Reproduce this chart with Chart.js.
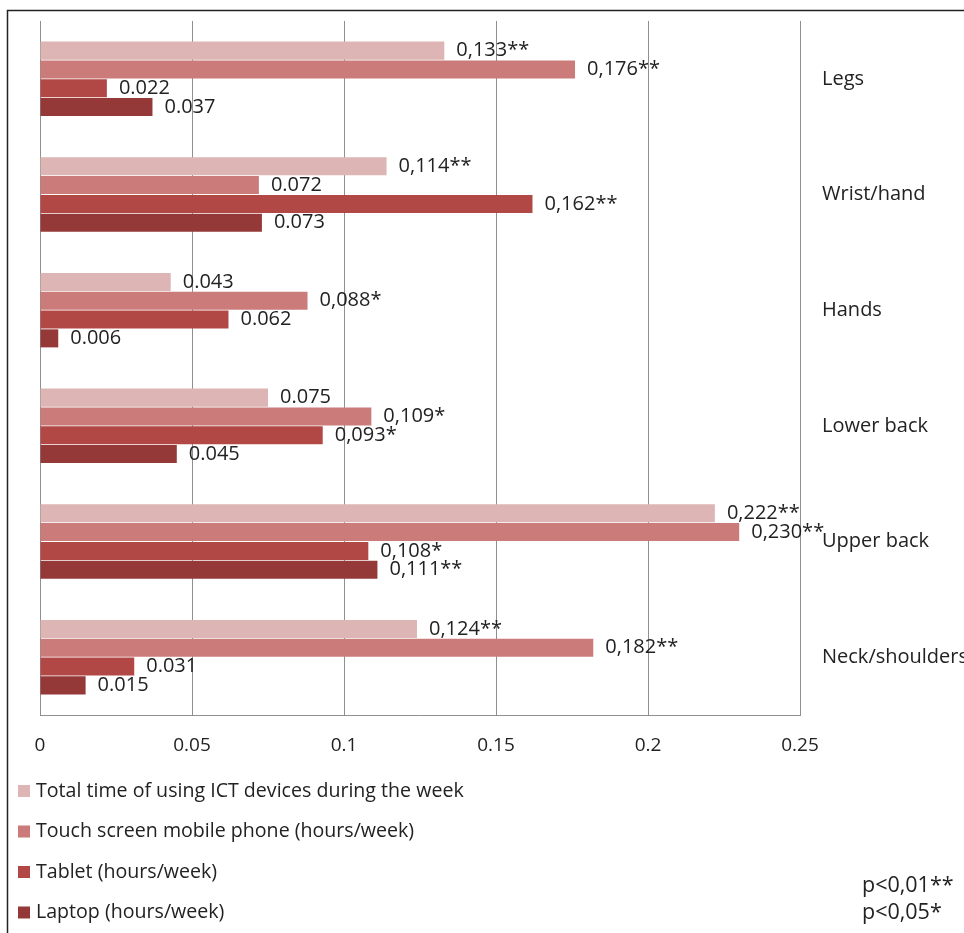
<!DOCTYPE html>
<html>
<head>
<meta charset="utf-8">
<script src="https://cdn.jsdelivr.net/npm/chart.js@4.4.1/dist/chart.umd.min.js"></script>
<style>
  html, body { margin: 0; padding: 0; background: #fff; }
  #wrap { width: 964px; height: 933px; }
</style>
</head>
<body>
<div id="wrap"><canvas id="myChart" width="964" height="933"></canvas></div>
<script>
// categories, top to bottom
var regions = ['Legs', 'Wrist/hand', 'Hands', 'Lower back', 'Upper back', 'Neck/shoulders'];

var totalTime = [0.133, 0.114, 0.043, 0.075, 0.222, 0.124];
var touchPhone = [0.176, 0.072, 0.088, 0.109, 0.230, 0.182];
var tablet = [0.022, 0.162, 0.062, 0.093, 0.108, 0.031];
var laptop = [0.037, 0.073, 0.006, 0.045, 0.111, 0.015];

// labels as printed next to the bars
var totalTimeText = ['0,133**', '0,114**', '0.043', '0.075', '0,222**', '0,124**'];
var touchPhoneText = ['0,176**', '0.072', '0,088*', '0,109*', '0,230**', '0,182**'];
var tabletText = ['0.022', '0,162**', '0.062', '0,093*', '0,108*', '0.031'];
var laptopText = ['0.037', '0.073', '0.006', '0.045', '0,111**', '0.015'];

var xTicks = ['0', '0.05', '0.1', '0.15', '0.2', '0.25'];
var notes = ['p<0,01**', 'p<0,05*'];

var FONT = '"Open Sans", Lato, sans-serif';
var SIZE = 20;

var barLabels = {
    id: 'barLabels',
    afterDatasetsDraw: function(chart) {
        var ctx = chart.ctx;
        ctx.save();
        ctx.font = SIZE + 'px ' + FONT;
        ctx.fillStyle = '#222';
        ctx.textBaseline = 'middle';
        ctx.textAlign = 'left';
        chart.data.datasets.forEach(function(ds, i) {
            chart.getDatasetMeta(i).data.forEach(function(bar, j) {
                ctx.fillText(ds.valueText[j], bar.x + 12, bar.y);
            });
        });
        ctx.restore();
    }
};

var frameAndLegend = {
    id: 'frameAndLegend',
    afterDraw: function(chart) {
        var ctx = chart.ctx;
        ctx.save();
        // outer frame
        ctx.strokeStyle = '#222';
        ctx.lineWidth = 1.5;
        ctx.beginPath();
        ctx.moveTo(7.5, 933);
        ctx.lineTo(7.5, 10.5);
        ctx.lineTo(964, 10.5);
        ctx.stroke();

        // legend, one item per row
        ctx.font = '19.6px ' + FONT;
        ctx.textBaseline = 'middle';
        ctx.textAlign = 'left';
        chart.data.datasets.forEach(function(ds, i) {
            var y = 791 + i * 40.5;
            ctx.fillStyle = ds.backgroundColor;
            ctx.fillRect(18, y - 6, 12, 12);
            ctx.fillStyle = '#222';
            ctx.fillText(ds.label, 36, y);
        });

        // significance notes
        ctx.font = '21.5px ' + FONT;
        notes.forEach(function(t, i) {
            ctx.fillText(t, 862, 886 + i * 27);
        });
        ctx.restore();
    }
};

var ctx = document.getElementById('myChart').getContext('2d');
var myChart = new Chart(ctx, {
    type: 'bar',
    data: {
        labels: regions,
        datasets: [{
            label: 'Total time of using ICT devices during the week',
            data: totalTime,
            valueText: totalTimeText,
            backgroundColor: '#DCB5B4'
        },
        {
            label: 'Touch screen mobile phone (hours/week)',
            data: touchPhone,
            valueText: touchPhoneText,
            backgroundColor: '#CA7B7A'
        },
        {
            label: 'Tablet (hours/week)',
            data: tablet,
            valueText: tabletText,
            backgroundColor: '#B24846'
        },
        {
            label: 'Laptop (hours/week)',
            data: laptop,
            valueText: laptopText,
            backgroundColor: '#943938'
        }]
    },
    options: {
        responsive: false,
        animation: false,
        indexAxis: 'y',
        categoryPercentage: 0.65,
        barPercentage: 0.96,
        layout: {
            padding: { left: 40, top: 21, right: 0, bottom: 0 }
        },
        plugins: {
            legend: { display: false },
            tooltip: { enabled: false }
        },
        scales: {
            x: {
                min: 0,
                max: 0.25,
                ticks: {
                    stepSize: 0.05,
                    color: '#222',
                    font: { family: FONT, size: 19 },
                    padding: 19,
                    callback: function(value, index) { return xTicks[index]; }
                },
                grid: { color: '#8f8f8f', drawTicks: false },
                border: { color: '#8f8f8f' },
                afterFit: function(scale) { scale.height = 218; }
            },
            y: {
                position: 'right',
                ticks: {
                    color: '#222',
                    font: { family: FONT, size: SIZE },
                    padding: 14
                },
                grid: { display: false },
                border: { display: false },
                afterFit: function(scale) {
                    scale.width = 164;
                    scale.paddingTop = 0;
                    scale.paddingBottom = 0;
                }
            }
        }
    },
    plugins: [barLabels, frameAndLegend]
});
</script>
</body>
</html>
